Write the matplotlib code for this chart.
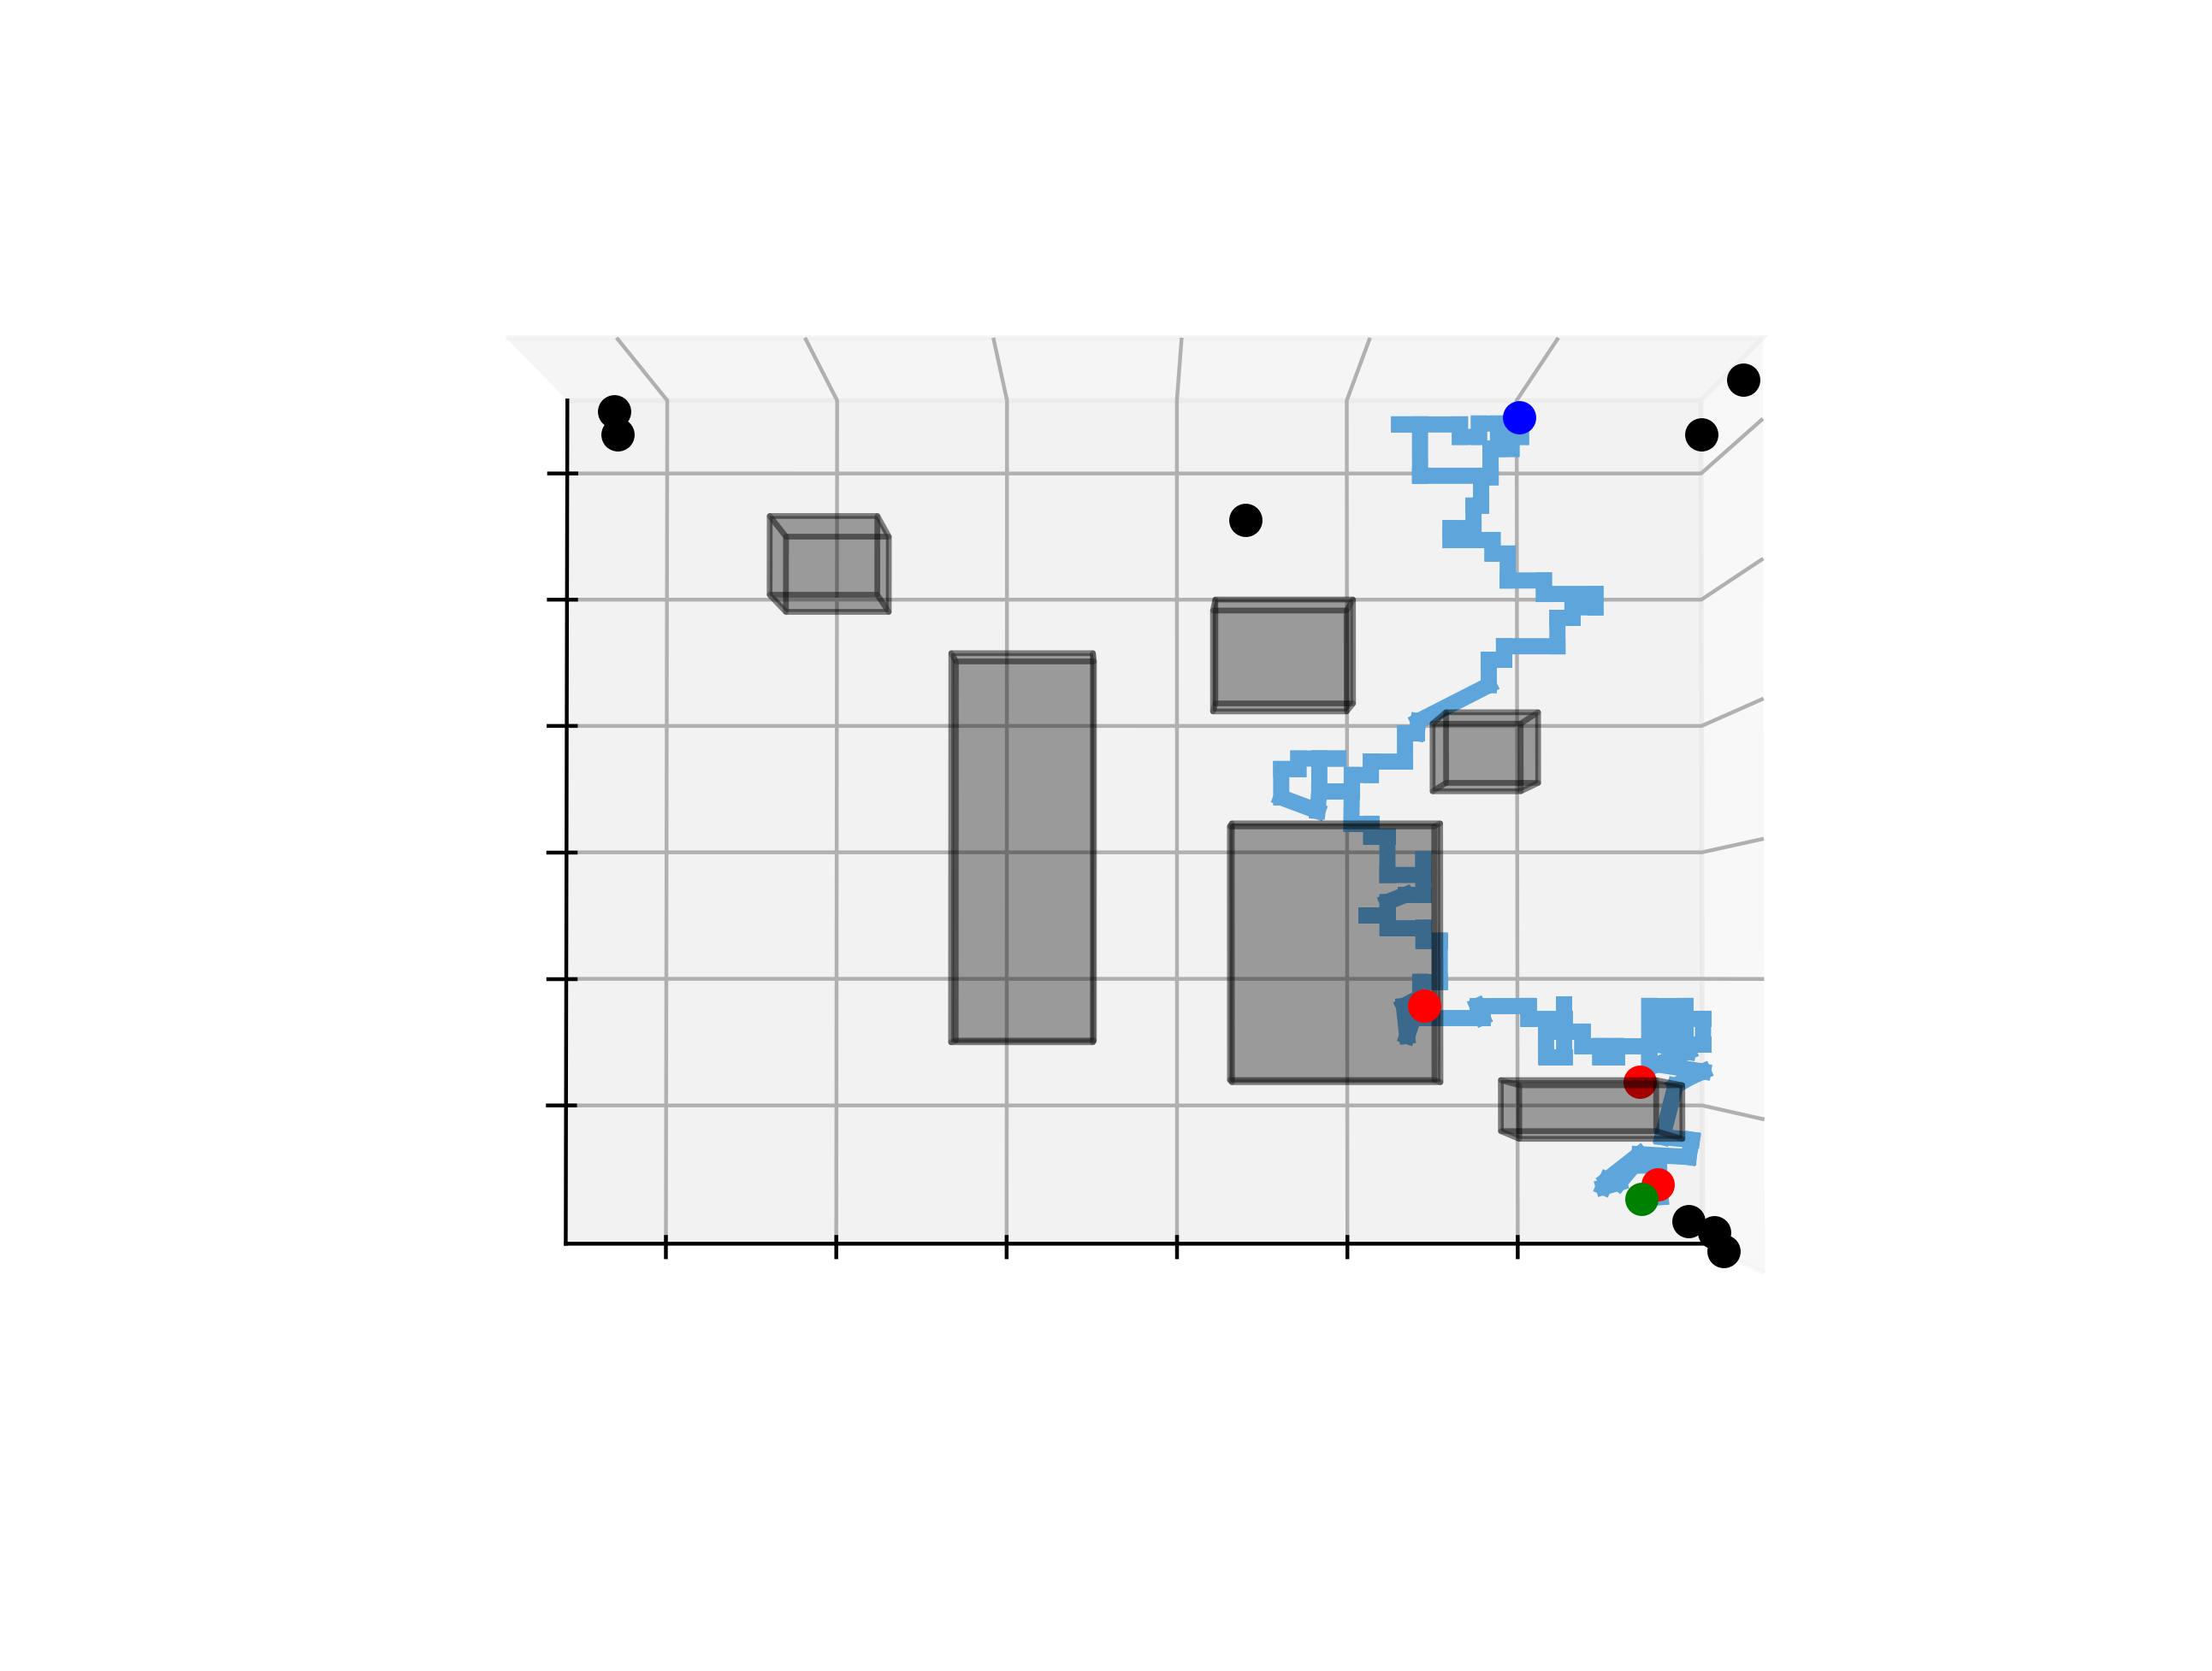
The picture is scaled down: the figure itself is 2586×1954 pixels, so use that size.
import numpy as np
import matplotlib
matplotlib.use("Agg")
import matplotlib.pyplot as plt
from mpl_toolkits.mplot3d.art3d import Poly3DCollection, Line3DCollection

# Limites del espacio de trabajo
x_lim = (-0.588, 6.085)
y_lim = (0.0, 6.673)
z_lim = (-1.091, 5.579)
ticks = [0, 1, 2, 3, 4, 5]

# Obstaculos (cajas): x0, x1, y0, y1, z0, z1
obs_x0 = [0.700, 1.700, 3.212, 3.311, 4.503, 4.902]
obs_x1 = [1.305, 2.512, 3.998, 4.512, 5.021, 5.814]
obs_y0 = [3.625, 4.953, 4.695, 5.342, 3.749, 3.440]
obs_y1 = [6.673, 6.673, 6.673, 6.673, 6.673, 6.673]
obs_z0 = [3.903, 0.512, 3.115, 0.200, 2.483, -0.203]
obs_z1 = [4.499, 3.511, 3.914, 2.205, 3.018, 0.200]

# Puntos negros
pts_x = [-0.036, -0.014, 6.007, 5.781, 3.343, 5.706, 5.841, 5.894]
pts_y = [0.5, 0.5, 0.5, 0.5, 0.5, 0.5, 0.5, 0.5]
pts_z = [5.083, 4.921, 5.315, 4.921, 4.303, -0.738, -0.819, -0.951]

# Inicio, puntos intermedios y meta
start = (5.017, 6.673, 5.445)
waypoints_x = [4.454, 5.720, 5.820]
waypoints_y = [6.673, 6.673, 6.673]
waypoints_z = [0.791, 0.189, -0.624]
goal = (5.728, 6.673, -0.735)

# Trayectoria
path_depth = 6.673
path_x = [5.025, 5.025, 4.969, 4.969, 4.846, 4.846, 4.431, 4.431, 4.308, 4.666,
          4.666, 4.778, 4.778, 4.890, 4.890, 4.846, 4.846, 4.790, 4.790, 4.745,
          4.745, 4.610, 4.610, 4.857, 4.857, 4.946, 4.946, 5.159, 5.159, 5.462,
          5.462, 5.327, 5.327, 5.238, 5.238, 4.924, 4.924, 4.834, 4.834, 4.420,
          4.409, 4.341, 4.341, 4.140, 4.140, 4.028, 4.028, 3.837, 3.837, 3.949,
          3.714, 3.714, 3.613, 3.613, 3.826, 3.837, 4.028,
          4.025, 4.141, 4.141, 4.237, 4.237, 4.448, 4.448, 4.448, 4.342, 4.237,
          4.237, 4.112, 4.237, 4.237, 4.448, 4.448, 4.544, 4.544, 4.429, 4.429,
          4.333, 4.352, 4.390, 4.794, 4.765, 5.063, 5.063, 5.274, 5.274, 5.274,
          5.168, 5.168, 5.380, 5.380, 5.485, 5.485, 5.581, 5.581, 5.774, 5.774,
          5.774, 5.985, 5.985, 5.850, 5.850, 6.090, 6.090, 5.821, 6.004, 5.821,
          6.090, 6.014, 5.927, 5.850, 6.023, 6.004, 5.716, 5.524, 5.505,
          5.596, 5.680, 5.830, 5.839, 5.738]
path_z = [5.420, 5.290, 5.290, 5.195, 5.195, 4.982, 4.982, 5.389, 5.389, 5.389,
          5.290, 5.290, 5.396, 5.396, 5.195, 5.195, 4.970, 4.970, 4.745, 4.745,
          4.567, 4.567, 4.472, 4.472, 4.365, 4.365, 4.152, 4.152, 4.045, 4.045,
          3.939, 3.939, 3.856, 3.856, 3.631, 3.631, 3.524, 3.524, 3.322, 3.038,
          2.943, 2.943, 2.718, 2.718, 2.612, 2.612, 2.481, 2.481, 2.742, 2.742,
          2.742, 2.659, 2.659, 2.434, 2.327, 2.481, 2.481,
          2.226, 2.226, 2.125, 2.125, 1.821, 1.821, 1.945, 1.664, 1.664, 1.607,
          1.506, 1.506, 1.506, 1.405, 1.405, 1.303, 1.303, 0.977, 0.977, 0.853,
          0.786, 0.549, 0.696, 0.696, 0.786, 0.786, 0.684, 0.684, 0.797, 0.381,
          0.381, 0.583, 0.583, 0.470, 0.470, 0.381, 0.381, 0.470, 0.470, 0.358,
          0.786, 0.786, 0.583, 0.583, 0.684, 0.684, 0.482, 0.482, 0.425, 0.324,
          0.268, 0.223, 0.155, -0.250, -0.272, -0.407, -0.385, -0.587, -0.644,
          -0.610, -0.475, -0.475, -0.723, -0.734]


def caja(x0, x1, y0, y1, z0, z1):
    v = np.array([[x0, y0, z0], [x1, y0, z0], [x1, y1, z0], [x0, y1, z0],
                  [x0, y0, z1], [x1, y0, z1], [x1, y1, z1], [x0, y1, z1]])
    caras = [[0, 1, 2, 3], [4, 5, 6, 7], [0, 1, 5, 4],
             [2, 3, 7, 6], [1, 2, 6, 5], [0, 3, 7, 4]]
    return [v[c] for c in caras]


fig = plt.figure(figsize=(6.465, 4.885), dpi=400)
ax = fig.add_subplot(111, projection="3d")
ax.set_position([0.1174, 0.1178, 0.775, 0.77])
ax.computed_zorder = False
ax.set_box_aspect((1.7162, 1.0336, 1.2754), zoom=1.2462)

# Trayectoria: cada tramo por separado (extremos cuadrados)
puntos = np.column_stack([path_x, [path_depth] * len(path_x), path_z])
tramos = np.stack([puntos[:-1], puntos[1:]], axis=1)
ax.add_collection3d(Line3DCollection(tramos, colors="#5DA5DA", linewidths=3.4,
                                     capstyle="projecting", zorder=1))

# Punto intermedio que queda detras de un obstaculo
ax.plot([waypoints_x[1]], [waypoints_y[1]], [waypoints_z[1]], "o",
        color="red", zorder=1.5)

# Obstaculos
for i in range(len(obs_x0)):
    caras = caja(obs_x0[i], obs_x1[i], obs_y0[i], obs_y1[i], obs_z0[i], obs_z1[i])
    ax.add_collection3d(Poly3DCollection(caras, facecolors=(0, 0, 0, 0.2),
                                         edgecolors=(0, 0, 0, 0.28),
                                         linewidths=1.2, zorder=2))

# Puntos
ax.plot(pts_x, pts_y, pts_z, "o", color="black", linestyle="none", zorder=3)
ax.plot([waypoints_x[0]], [waypoints_y[0]], [waypoints_z[0]], "o", color="red", zorder=3)
ax.plot([waypoints_x[2]], [waypoints_y[2]], [waypoints_z[2]], "o", color="red", zorder=3)
ax.plot([start[0]], [start[1]], [start[2]], "o", color="blue", zorder=3)
ax.plot([goal[0]], [goal[1]], [goal[2]], "o", color="green", zorder=3)

ax.set_xlim(*x_lim)
ax.set_ylim(*y_lim)
ax.set_zlim(*z_lim)
ax.set_xticks(ticks)
ax.set_zticks(ticks)
ax.set_yticks([])
ax.set_xticklabels([])
ax.set_zticklabels([])
ax.xaxis.set_ticks_position("lower")
ax.yaxis.line.set_visible(False)

ax.view_init(elev=-1.35, azim=-90.01)

fig.savefig("out.png", dpi=400)
